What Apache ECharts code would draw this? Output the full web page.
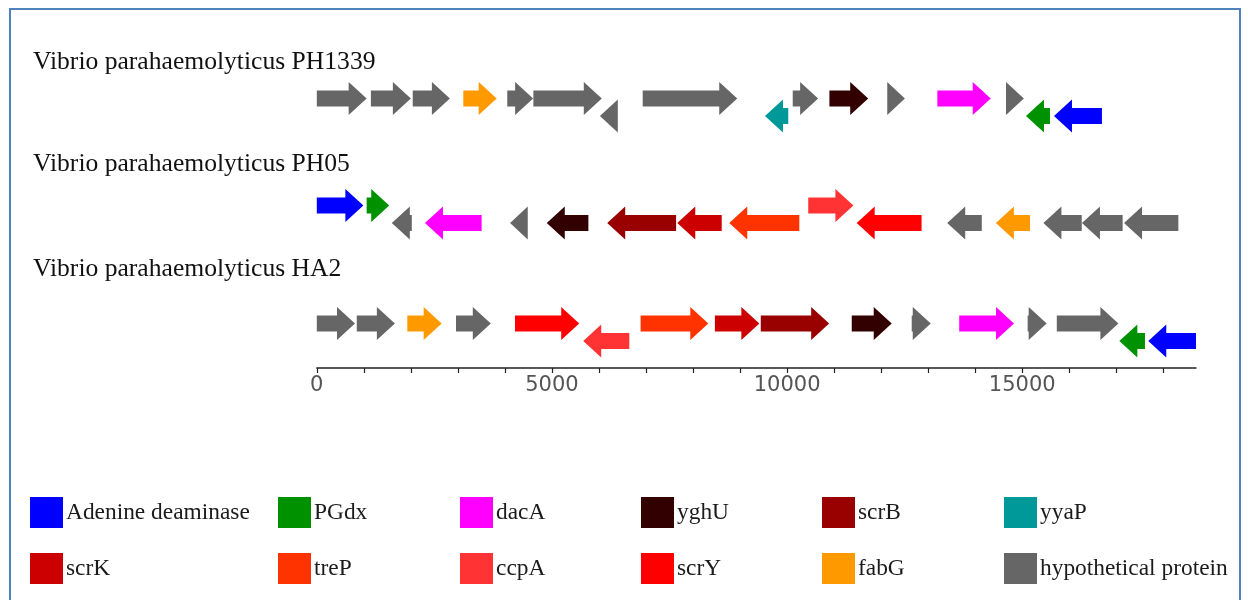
<!DOCTYPE html>
<html>
<head>
<meta charset="utf-8">
<script src="https://cdn.jsdelivr.net/npm/echarts@6/dist/echarts.min.js"></script>
<style>
  html, body { margin: 0; padding: 0; background: #ffffff; }
  #chart { width: 1248px; height: 600px; }
</style>
</head>
<body>
<div id="chart"></div>
<script>
// Genomes, one track each
const genomeNames = [
  'Vibrio parahaemolyticus PH1339',
  'Vibrio parahaemolyticus PH05',
  'Vibrio parahaemolyticus HA2'
];

// Gene families and their colours (legend order)
const geneTypes = ['Adenine deaminase', 'PGdx', 'dacA', 'yghU', 'scrB', 'yyaP',
                   'scrK', 'treP', 'ccpA', 'scrY', 'fabG', 'hypothetical protein'];
const geneColors = ['#0000ff', '#009100', '#ff00ff', '#330000', '#990000', '#009999',
                    '#cc0000', '#ff3300', '#ff3333', '#ff0000', '#ff9900', '#666666'];

// Genes per genome: [gene, start (bp), end (bp), strand]
const genesPH1339 = [
  ['hypothetical protein', 0, 1060, 1],
  ['hypothetical protein', 1150, 2000, 1],
  ['hypothetical protein', 2040, 2830, 1],
  ['fabG', 3115, 3825, 1],
  ['hypothetical protein', 4050, 4600, 1],
  ['hypothetical protein', 4605, 6060, 1],
  ['hypothetical protein', 6020, 6400, -1],
  ['hypothetical protein', 6930, 8940, 1],
  ['yyaP', 9530, 10025, -1],
  ['hypothetical protein', 10120, 10660, 1],
  ['yghU', 10900, 11725, 1],
  ['hypothetical protein', 12130, 12505, 1],
  ['dacA', 13195, 14330, 1],
  ['hypothetical protein', 14655, 15035, 1],
  ['PGdx', 15080, 15590, -1],
  ['Adenine deaminase', 15675, 16695, -1]
];
const genesPH05 = [
  ['Adenine deaminase', 0, 990, 1],
  ['PGdx', 1060, 1540, 1],
  ['hypothetical protein', 1595, 2020, -1],
  ['dacA', 2300, 3505, -1],
  ['hypothetical protein', 4110, 4485, -1],
  ['yghU', 4890, 5775, -1],
  ['scrB', 6175, 7640, -1],
  ['scrK', 7665, 8610, -1],
  ['treP', 8770, 10260, -1],
  ['ccpA', 10450, 11410, 1],
  ['scrY', 11480, 12860, -1],
  ['hypothetical protein', 13405, 14140, -1],
  ['fabG', 14440, 15165, -1],
  ['hypothetical protein', 15450, 16265, -1],
  ['hypothetical protein', 16270, 17135, -1],
  ['hypothetical protein', 17165, 18320, -1]
];
const genesHA2 = [
  ['hypothetical protein', 0, 812, 1],
  ['hypothetical protein', 850, 1660, 1],
  ['fabG', 1925, 2655, 1],
  ['hypothetical protein', 2960, 3700, 1],
  ['scrY', 4215, 5580, 1],
  ['ccpA', 5665, 6645, -1],
  ['treP', 6885, 8325, 1],
  ['scrK', 8465, 9410, 1],
  ['scrB', 9440, 10895, 1],
  ['yghU', 11375, 12225, 1],
  ['hypothetical protein', 12650, 13055, 1],
  ['dacA', 13660, 14825, 1],
  ['hypothetical protein', 15115, 15520, 1],
  ['hypothetical protein', 15735, 17045, 1],
  ['PGdx', 17065, 17610, -1],
  ['Adenine deaminase', 17680, 18695, -1]
];

// Axis ticks and labels (bp)
const axisMax = 18695;
const tickValues = [0, 1000, 2000, 3000, 4000, 5000, 6000, 7000, 8000, 9000,
                    10000, 11000, 12000, 13000, 14000, 15000, 16000, 17000, 18000];
const labelValues = [0, 5000, 10000, 15000];

// ---- layout ----
const genomeGenes = [genesPH1339, genesPH05, genesHA2];
const trackY = [98.5, 205.5, 323.5];     // forward-strand centre line of each track
const reverseShift = 17.5;               // reverse-strand genes sit a little lower
const labelY = [62, 164, 269];
const axisY = 368;
const bodyHalf = 8;
const headHalf = 16.5;
const headLen = 18;
const legendLeft = [30, 278, 460, 641, 822, 1004];
const legendTop = [497, 553];

function renderArrow(params, api) {
  const start = api.value(0);
  const end = api.value(1);
  const strand = api.value(2);
  const row = api.value(3);
  const yc = trackY[row] + (strand < 0 ? reverseShift : 0);
  const p1 = api.coord([start, yc]);
  const p2 = api.coord([end, yc]);
  const x1 = p1[0], x2 = p2[0], y = p1[1];
  const head = Math.min(headLen, x2 - x1);
  let pts;
  if (strand > 0) {
    const xb = x2 - head;
    pts = [[x1, y - bodyHalf], [xb, y - bodyHalf], [xb, y - headHalf], [x2, y],
           [xb, y + headHalf], [xb, y + bodyHalf], [x1, y + bodyHalf]];
  } else {
    const xb = x1 + head;
    pts = [[x2, y - bodyHalf], [xb, y - bodyHalf], [xb, y - headHalf], [x1, y],
           [xb, y + headHalf], [xb, y + bodyHalf], [x2, y + bodyHalf]];
  }
  return { type: 'polygon', shape: { points: pts }, style: { fill: api.visual('color') } };
}

const series = geneTypes.map(function (type, i) {
  const data = [];
  genomeGenes.forEach(function (genes, row) {
    genes.forEach(function (g) {
      if (g[0] === type) data.push([g[1], g[2], g[3], row]);
    });
  });
  return {
    type: 'custom',
    name: type,
    renderItem: renderArrow,
    itemStyle: { color: geneColors[i] },
    encode: { x: [0, 1], y: 3 },
    data: data,
    silent: true
  };
});

const legends = geneTypes.map(function (type, i) {
  return {
    data: [type],
    left: legendLeft[i % 6],
    top: legendTop[Math.floor(i / 6)],
    padding: 0,
    icon: 'rect',
    itemWidth: 33,
    itemHeight: 31,
    selectedMode: false,
    textStyle: { fontFamily: 'Liberation Serif', fontSize: 23.4, color: '#1b1b1b', padding: [0, 0, 0, -2] }
  };
});

const graphics = [
  {
    type: 'rect',
    shape: { x: 10, y: 9, width: 1230, height: 620 },
    style: { fill: null, stroke: '#4f81bd', lineWidth: 2 },
    silent: true
  }
].concat(genomeNames.map(function (name, i) {
  return {
    type: 'text',
    x: 33,
    y: labelY[i],
    style: {
      text: name,
      font: '25.6px "Liberation Serif"',
      fill: '#111111',
      align: 'left',
      verticalAlign: 'middle'
    },
    silent: true
  };
}));

const chart = echarts.init(document.getElementById('chart'), null, { renderer: 'canvas' });
chart.setOption({
  animation: false,
  backgroundColor: '#ffffff',
  grid: { left: 316.8, right: 1248 - 1196, top: 0, bottom: 600 - axisY },
  xAxis: {
    type: 'value',
    min: 0,
    max: axisMax,
    axisLine: { onZero: false, lineStyle: { color: '#222222', width: 1.5 } },
    axisTick: { show: true, length: 5, customValues: tickValues, lineStyle: { color: '#222222', width: 1.2 } },
    axisLabel: {
      customValues: labelValues,
      formatter: function (v) { return String(v); },
      fontFamily: 'DejaVu Sans',
      fontSize: 21,
      color: '#555555',
      margin: 7
    },
    splitLine: { show: false }
  },
  yAxis: {
    type: 'value',
    min: 0,
    max: axisY,
    inverse: true,
    show: false
  },
  legend: legends,
  graphic: graphics,
  series: series
});
</script>
</body>
</html>
